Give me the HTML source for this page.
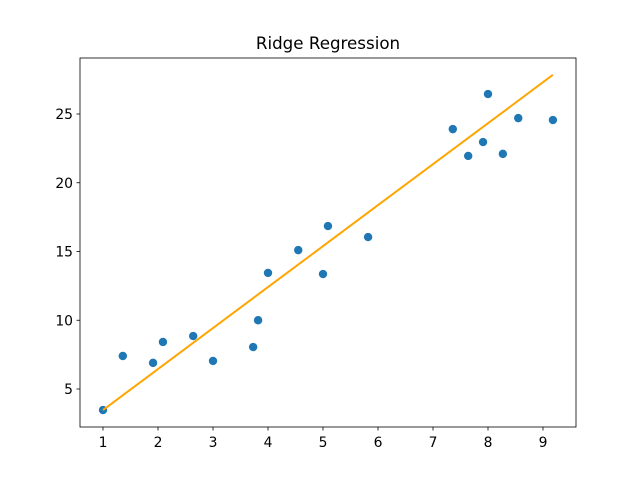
<!DOCTYPE html>
<html><head><meta charset="utf-8"><style>
body{margin:0;background:#fff;}
svg text{font-family:"DejaVu Sans","Liberation Sans",sans-serif;font-size:13.9px;fill:#000;}
</style></head><body>
<svg id="chart" width="640" height="480">
<rect width="640" height="480" fill="#fff"/>
<text x="328" y="49" text-anchor="middle" style="font-size:16.7px">Ridge Regression</text>
<g id="marks"></g>
<rect x="80" y="58" width="496" height="369" fill="none" stroke="#000" stroke-width="0.8"/>
<g id="axes"></g>
</svg>
<script>
const xs=[1,1.36,1.91,2.09,2.64,3.0,3.73,3.82,4.0,4.55,5.0,5.09,5.82,7.36,7.64,7.91,8.0,8.27,8.55,9.18];
const ys=[3.47,7.4,6.9,8.42,8.85,7.04,8.05,10.0,13.44,15.1,13.36,16.85,16.05,23.9,21.95,22.96,26.45,22.1,24.7,24.56];
const slope=2.98, intercept=0.49;
const xTicks=[1,2,3,4,5,6,7,8,9];
const yTicks=[5,10,15,20,25];
const X=v=>103+(v-1)*55;
const Y=v=>389-(v-5)*13.75;
const NS="http://www.w3.org/2000/svg";
const marks=document.getElementById('marks'), axes=document.getElementById('axes');
function mk(t,a,p){const e=document.createElementNS(NS,t);for(const k in a)e.setAttribute(k,a[k]);p.appendChild(e);return e;}
xs.forEach((x,i)=>{
 const c=mk('circle',{cx:X(x),cy:Y(ys[i]),r:4.2,fill:'#1f77b4'},marks);
 
 
});
const x0=Math.min(...xs),x1=Math.max(...xs);
const ln=mk('line',{x1:X(x0),y1:Y(slope*x0+intercept),x2:X(x1),y2:Y(slope*x1+intercept),stroke:'orange','stroke-width':2},marks);


xTicks.forEach(t=>{
 const g=mk('g',{},axes);
 
 
 mk('line',{x1:X(t),x2:X(t),y1:427,y2:430.5,stroke:'#000','stroke-width':0.8},g);
 mk('text',{x:X(t),y:447,'text-anchor':'middle'},g).textContent=t;
});
yTicks.forEach(t=>{
 const g=mk('g',{},axes);
 
 
 mk('line',{x1:76.5,x2:80,y1:Y(t),y2:Y(t),stroke:'#000','stroke-width':0.8},g);
 mk('text',{x:73,y:Y(t)+5,'text-anchor':'end'},g).textContent=t;
});
</script>
</body></html>
